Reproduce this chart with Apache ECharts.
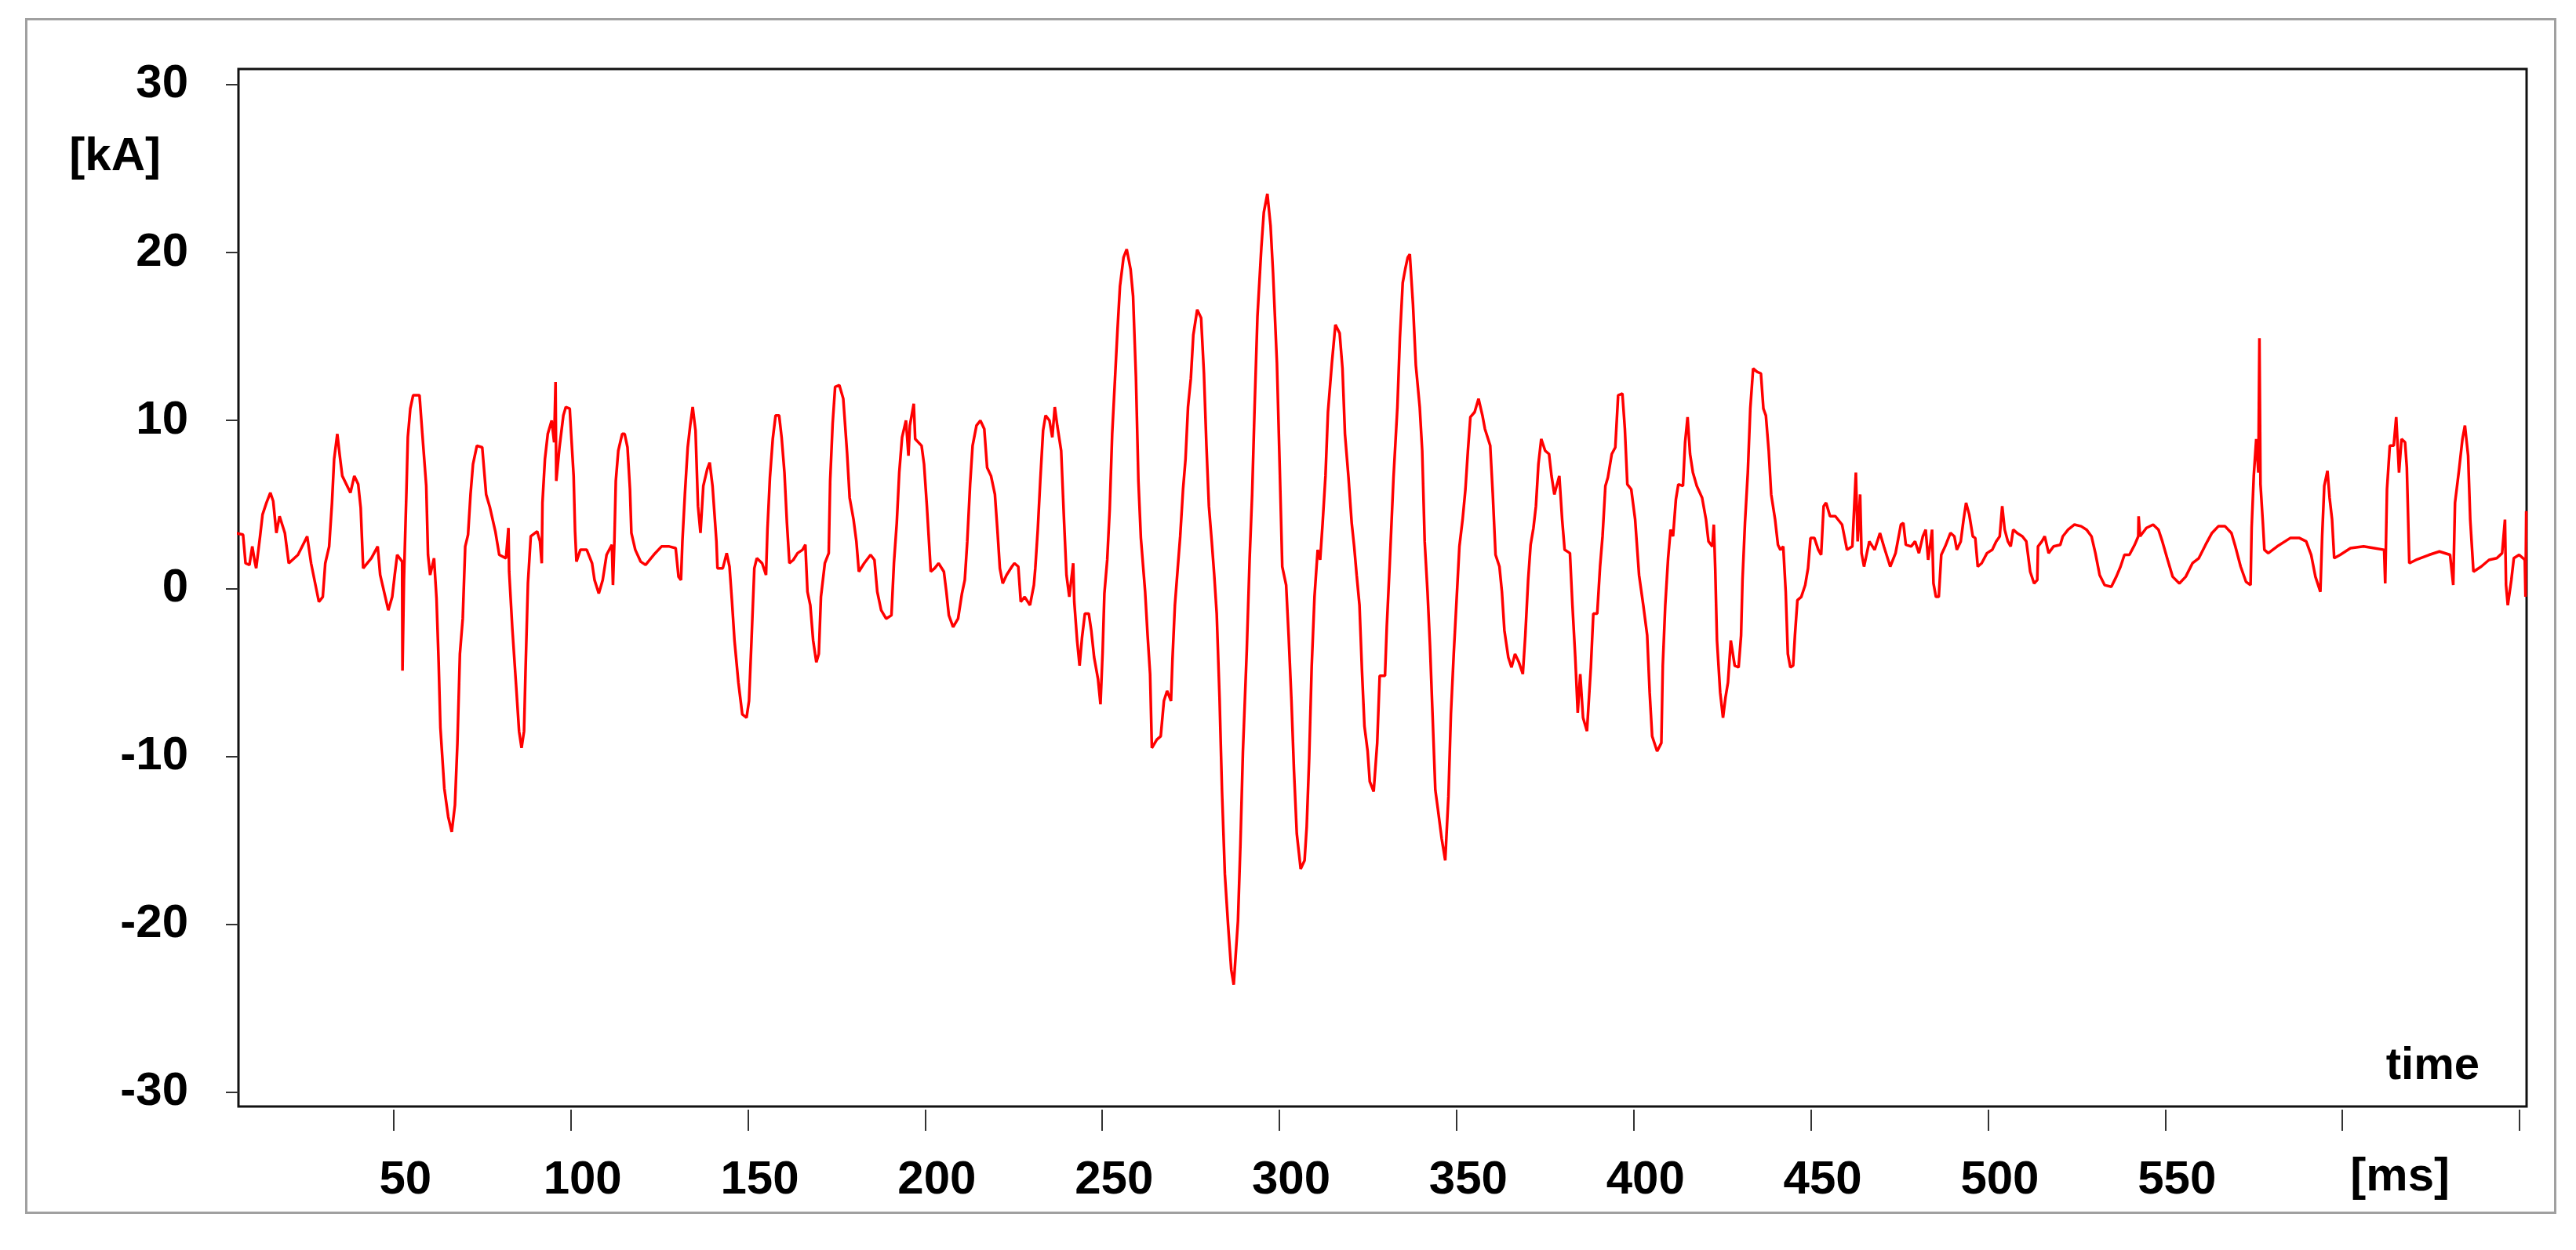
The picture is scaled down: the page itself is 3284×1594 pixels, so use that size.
<!DOCTYPE html>
<html>
<head>
<meta charset="utf-8">
<script src="https://cdn.jsdelivr.net/npm/echarts@6/dist/echarts.min.js"></script>
<style>
    html, body {
        margin: 0;
        padding: 0;
        background: #ffffff;
    }

    #chart {
        position: absolute;
        left: 0;
        top: 0;
        width: 3284px;
        height: 1594px;
    }

    .frame {
        position: absolute;
        left: 32px;
        top: 23px;
        width: 3227px;
        height: 1525px;
        box-sizing: border-box;
        border: 3px solid #a0a0a0;
        pointer-events: none;
    }
</style>
</head>
<body>
<div id="chart"></div>
<div class="frame"></div>
<script>
// time axis in ms, current in kA
const timeMs = [
    5.3, 7.5, 8.2, 9.3, 10.1, 10.8, 11.2, 12.3, 13.0, 14.1, 15.2, 16.0, 16.9, 17.8, 19.3, 20.4, 23.0, 25.6, 26.7, 28.9,
    30.0, 30.7, 31.8, 32.6, 33.2, 34.1, 34.8, 35.5, 37.8, 38.9, 40.0, 40.7, 41.4, 43.7, 45.5, 46.2, 47.3, 48.5, 49.6, 50.3,
    51.0, 52.4, 52.5, 52.9, 53.6, 54.0, 54.7, 55.5, 57.3, 58.1, 59.2, 59.7, 60.3, 61.4, 62.1, 62.7, 63.2, 64.3, 65.4, 66.4,
    67.3, 68.0, 68.7, 69.5, 70.2, 71.0, 71.7, 72.4, 73.5, 75.0, 76.1, 77.2, 78.7, 79.8, 81.7, 82.4, 82.6, 83.5, 84.6, 85.4,
    86.1, 86.8, 87.2, 87.9, 88.7, 90.5, 91.3, 91.8, 92.0, 92.7, 93.5, 94.6, 95.3, 95.7, 95.9, 96.8, 97.9, 98.6, 99.7, 100.1,
    100.8, 101.2, 101.6, 102.7, 104.5, 106.0, 106.7, 107.9, 109.0, 110.1, 111.6, 111.9, 112.3, 112.7, 113.4, 114.5, 115.2, 116.0, 116.7, 117.1,
    118.2, 119.7, 121.1, 123.4, 125.6, 127.8, 129.6, 130.4, 131.1, 131.5, 132.2, 133.0, 133.7, 134.4, 135.2, 135.9, 136.6, 137.4, 138.5, 139.2,
    140.0, 141.1, 141.4, 142.9, 144.0, 144.8, 145.5, 146.2, 147.3, 148.4, 149.6, 150.3, 151.0, 151.8, 152.5, 154.0, 155.1, 155.5, 156.2, 157.0,
    157.8, 158.8, 159.5, 160.3, 161.0, 161.7, 162.8, 164.0, 165.4, 166.2, 166.8, 167.6, 168.4, 169.3, 170.0, 170.6, 171.7, 172.8, 173.2, 173.9,
    174.6, 175.8, 176.9, 178.0, 178.7, 179.8, 180.6, 181.3, 182.8, 184.6, 185.7, 186.5, 187.6, 189.0, 190.5, 191.2, 192.0, 192.7, 193.5, 194.6,
    195.3, 195.7, 196.8, 197.2, 199.0, 199.7, 200.5, 201.6, 202.7, 203.8, 205.3, 206.0, 206.7, 207.9, 209.3, 210.4, 211.2, 211.9, 212.7, 213.4,
    214.5, 215.6, 216.7, 217.5, 218.6, 219.7, 220.4, 221.1, 221.9, 223.0, 224.5, 225.2, 226.3, 227.0, 228.1, 229.6, 230.7, 231.1, 231.8, 232.5,
    233.3, 234.0, 235.1, 235.9, 236.6, 237.3, 238.4, 239.2, 239.9, 240.7, 241.8, 242.1, 242.9, 243.6, 244.3, 245.1, 246.2, 246.9, 247.7, 248.8,
    249.5, 250.1, 250.6, 251.4, 252.1, 252.8, 253.6, 254.3, 255.0, 256.0, 256.9, 258.0, 258.7, 259.5, 260.2, 260.9, 262.1, 262.8, 263.5, 264.0,
    265.4, 266.5, 267.4, 268.3, 269.4, 269.8, 270.5, 271.3, 272.0, 272.8, 273.5, 274.2, 275.0, 275.7, 276.8, 277.9, 278.7, 279.4, 280.1, 280.9,
    281.6, 282.3, 283.1, 283.8, 284.6, 285.5, 286.4, 287.1, 288.3, 289.0, 289.7, 290.8, 291.6, 292.3, 293.0, 293.8, 294.9, 295.6, 296.6, 297.5,
    298.2, 299.3, 300.1, 300.8, 301.9, 302.6, 303.4, 304.1, 304.9, 306.0, 307.1, 307.7, 308.4, 309.1, 309.9, 310.8, 311.5, 312.2, 313.0, 313.7,
    314.8, 315.8, 317.0, 317.8, 318.5, 319.5, 320.4, 321.1, 321.8, 322.6, 323.3, 324.0, 324.9, 325.5, 326.6, 327.6, 328.3, 329.8, 330.3, 331.1,
    332.2, 333.3, 334.0, 334.8, 335.5, 336.2, 336.8, 337.7, 338.5, 339.6, 340.3, 341.0, 341.8, 342.5, 343.2, 344.0, 344.7, 345.8, 346.8, 347.7,
    348.4, 349.2, 350.0, 350.8, 351.7, 352.5, 353.2, 353.9, 355.1, 356.2, 357.3, 358.0, 359.5, 360.2, 361.0, 362.1, 362.8, 363.5, 364.6, 365.5,
    366.5, 367.6, 368.7, 369.4, 370.2, 370.9, 371.7, 372.4, 373.1, 373.9, 375.0, 376.1, 376.8, 377.6, 379.0, 379.8, 380.5, 382.0, 382.7, 383.5,
    384.2, 384.9, 385.7, 386.8, 387.9, 388.6, 389.7, 390.5, 391.2, 392.0, 392.7, 393.8, 394.8, 395.6, 396.8, 397.5, 398.2, 399.3, 400.4, 401.5,
    402.7, 403.8, 404.5, 405.2, 406.6, 407.8, 408.2, 408.9, 409.7, 410.4, 411.1, 411.9, 412.6, 413.9, 414.5, 415.2, 415.9, 416.7, 417.8, 419.3,
    420.4, 421.1, 422.2, 422.6, 423.0, 423.5, 424.4, 425.2, 425.9, 426.6, 427.4, 428.5, 429.6, 430.3, 430.7, 431.4, 432.2, 432.9, 433.7, 434.8,
    435.9, 436.6, 437.3, 438.1, 438.8, 439.9, 440.7, 441.4, 442.2, 442.9, 443.5, 444.2, 445.0, 445.5, 446.2, 447.3, 448.4, 449.2, 449.9, 451.0,
    452.1, 452.9, 453.6, 454.3, 455.4, 456.9, 458.8, 460.2, 461.7, 462.7, 463.2, 463.9, 464.3, 465.0, 466.5, 468.0, 469.5, 470.6, 472.4, 473.9,
    475.4, 476.1, 476.8, 478.3, 479.4, 480.5, 481.6, 482.4, 483.1, 483.8, 484.2, 484.6, 485.3, 486.1, 486.8, 487.9, 489.4, 490.5, 491.2, 492.3,
    493.1, 493.8, 494.7, 495.7, 496.4, 497.1, 498.2, 499.7, 501.2, 502.3, 503.3, 504.0, 504.7, 505.6, 506.4, 507.1, 508.2, 509.7, 510.8, 511.9,
    513.0, 513.9, 514.1, 515.2, 516.0, 517.1, 518.5, 520.4, 521.1, 522.6, 524.4, 526.3, 527.8, 529.2, 530.3, 531.5, 532.9, 534.8, 536.2, 537.4,
    538.5, 539.9, 541.4, 542.4, 542.5, 542.9, 544.7, 546.6, 548.1, 549.2, 550.7, 552.1, 554.0, 555.8, 557.7, 559.5, 561.4, 563.2, 565.0, 566.9,
    568.7, 569.8, 571.3, 572.8, 574.1, 574.4, 575.0, 575.7, 576.3, 576.6, 576.9, 577.2, 577.6, 578.0, 579.1, 581.6, 585.3, 587.9, 589.8, 591.2,
    592.4, 593.8, 594.3, 594.9, 595.8, 596.4, 597.1, 597.7, 599.4, 602.3, 606.0, 609.0, 611.8, 612.1, 612.6, 613.4, 614.5, 615.2, 616.0, 616.7,
    617.7, 618.2, 618.9, 620.8, 624.5, 627.4, 630.4, 631.3, 631.8, 632.9, 633.9, 634.6, 635.5, 636.1, 637.0, 639.2, 641.4, 643.6, 645.1, 645.9,
    646.2, 646.7, 647.7, 648.4, 649.9, 651.0, 651.5, 651.7, 651.9
];

const currentKA = [
    3.3, 3.2, 1.5, 1.4, 2.5, 1.6, 1.2, 3.1, 4.4, 5.1, 5.7, 5.2, 3.3, 4.3, 3.3, 1.5, 2.0, 3.1, 1.5, -0.8,
    -0.5, 1.5, 2.5, 5.1, 7.7, 9.2, 7.9, 6.7, 5.7, 6.7, 6.2, 4.8, 1.2, 1.8, 2.5, 0.8, -0.2, -1.3, -0.5, 0.8,
    2.0, 1.6, -4.9, 0.5, 5.7, 9.0, 10.7, 11.5, 11.5, 9.2, 6.1, 2.0, 0.8, 1.8, -0.6, -4.4, -8.3, -11.9, -13.6, -14.5,
    -12.9, -9.2, -3.9, -1.8, 2.5, 3.2, 5.6, 7.4, 8.5, 8.4, 5.6, 4.8, 3.4, 2.0, 1.8, 3.6, 1.0, -2.4, -5.9, -8.5,
    -9.5, -8.5, -5.1, 0.3, 3.1, 3.4, 2.8, 1.5, 5.1, 7.7, 9.2, 10.0, 8.7, 12.3, 6.4, 8.4, 10.3, 10.8, 10.7, 9.2,
    6.7, 3.4, 1.6, 2.3, 2.3, 1.5, 0.5, -0.3, 0.5, 2.0, 2.6, 0.2, 2.8, 6.4, 8.2, 9.2, 9.2, 8.4, 5.9, 3.3,
    2.3, 1.6, 1.4, 2.0, 2.5, 2.5, 2.4, 0.7, 0.5, 2.8, 5.6, 8.4, 9.7, 10.8, 9.4, 4.9, 3.3, 6.1, 7.1, 7.5,
    6.1, 2.8, 1.2, 1.2, 2.1, 1.3, -0.8, -3.1, -5.6, -7.5, -7.7, -6.7, -3.1, 1.2, 1.8, 1.5, 0.8, 3.5, 6.6, 8.9,
    10.3, 10.3, 9.0, 6.9, 3.9, 1.5, 1.7, 2.1, 2.3, 2.6, -0.2, -1.0, -3.1, -4.4, -3.9, -0.5, 1.5, 2.1, 6.4, 9.8,
    12.0, 12.1, 11.3, 8.0, 5.4, 4.1, 2.8, 1.0, 1.5, 2.0, 1.7, -0.2, -1.3, -1.8, -1.6, 1.5, 3.9, 6.9, 9.0, 10.0,
    7.9, 9.7, 11.0, 8.9, 8.5, 7.4, 4.9, 1.0, 1.2, 1.5, 1.0, -0.2, -1.6, -2.3, -1.8, -0.3, 0.5, 2.8, 6.2, 8.5,
    9.7, 10.0, 9.5, 7.2, 6.7, 5.6, 3.5, 1.2, 0.3, 0.8, 1.3, 1.5, 1.3, -0.8, -0.5, -1.0, 0.2, 1.2, 3.5, 6.4,
    9.4, 10.3, 10.0, 9.0, 10.8, 9.7, 8.2, 4.1, 0.8, -0.5, 1.5, -0.8, -3.1, -4.6, -2.9, -1.5, -1.5, -2.5, -4.1, -5.4,
    -6.9, -3.8, -0.3, 1.7, 4.7, 9.2, 12.5, 15.4, 18.0, 19.7, 20.2, 19.0, 17.4, 12.6, 6.4, 3.0, -0.2, -2.8, -5.1, -9.5,
    -9.0, -8.8, -6.7, -6.1, -6.7, -4.3, -1.0, 1.2, 3.1, 5.9, 7.7, 10.8, 12.5, 15.1, 16.6, 16.1, 12.8, 8.5, 4.9, 2.8,
    0.8, -1.5, -6.5, -12.1, -17.0, -20.0, -22.7, -23.6, -19.8, -15.2, -9.7, -3.6, 1.8, 5.6, 10.8, 16.2, 20.3, 22.4, 23.5, 21.6,
    18.8, 13.4, 7.1, 1.3, 0.2, -2.8, -6.7, -10.8, -14.6, -16.7, -16.2, -14.2, -10.1, -4.7, -0.5, 2.3, 1.7, 3.9, 6.7, 10.5,
    13.4, 15.7, 15.2, 13.1, 9.2, 6.6, 3.9, 2.5, 0.8, -1.0, -4.9, -8.2, -9.7, -11.5, -12.1, -9.2, -5.2, -5.2, -2.3, 1.3,
    6.6, 10.8, 14.9, 18.2, 19.0, 19.7, 19.9, 16.9, 13.3, 10.8, 8.2, 2.8, -0.2, -3.4, -7.4, -12.0, -13.1, -14.9, -16.2, -12.4,
    -7.5, -3.9, -0.7, 2.5, 4.1, 5.9, 8.2, 10.2, 10.5, 11.3, 10.3, 9.5, 8.5, 5.7, 2.0, 1.3, -0.2, -2.5, -4.1, -4.7,
    -3.9, -4.4, -5.1, -2.8, 0.5, 2.6, 3.6, 4.9, 7.4, 8.9, 8.2, 8.0, 6.7, 5.6, 6.7, 4.1, 2.3, 2.1, -1.0, -4.1,
    -7.4, -5.1, -7.7, -8.5, -4.7, -1.5, -1.5, 1.3, 3.1, 6.1, 6.6, 8.0, 8.4, 11.5, 11.6, 9.5, 6.2, 5.9, 4.1, 0.8,
    -1.0, -2.8, -6.2, -8.8, -9.7, -9.2, -4.6, -1.0, 1.8, 3.5, 3.1, 5.3, 6.2, 6.1, 8.7, 10.2, 8.0, 6.9, 6.1, 5.4,
    4.1, 2.8, 2.5, 3.8, 1.2, -3.1, -6.2, -7.7, -6.5, -5.6, -3.1, -4.6, -4.7, -2.8, 0.5, 3.9, 6.9, 10.7, 13.1, 12.9,
    12.8, 10.7, 10.3, 8.2, 5.6, 4.1, 2.6, 2.3, 2.5, -0.2, -3.9, -4.7, -4.6, -2.8, -0.7, -0.5, 0.2, 1.2, 3.0, 3.0,
    2.3, 2.0, 4.9, 5.1, 4.3, 4.3, 3.8, 2.3, 2.5, 6.9, 2.8, 5.6, 2.1, 1.3, 2.8, 2.3, 3.3, 2.5, 1.3, 2.1,
    3.8, 3.9, 2.6, 2.5, 2.8, 2.1, 3.1, 3.5, 1.7, 2.8, 3.5, 0.3, -0.5, -0.5, 2.0, 2.5, 3.3, 3.1, 2.3, 2.8,
    4.1, 5.1, 4.4, 3.1, 3.0, 1.3, 1.5, 2.1, 2.3, 2.8, 3.1, 4.9, 3.5, 2.8, 2.5, 3.5, 3.3, 3.1, 2.8, 1.0,
    0.3, 0.5, 2.5, 2.8, 3.1, 2.1, 2.5, 2.6, 3.1, 3.5, 3.8, 3.7, 3.5, 3.1, 2.1, 0.8, 0.2, 0.1, 0.7, 1.3,
    2.0, 2.0, 2.6, 3.1, 4.3, 3.1, 3.6, 3.8, 3.5, 2.8, 1.7, 0.7, 0.3, 0.7, 1.5, 1.8, 2.6, 3.3, 3.7, 3.7,
    3.3, 2.5, 1.3, 0.4, 0.2, 3.6, 6.7, 8.9, 6.9, 14.9, 6.2, 6.2, 3.8, 2.3, 2.1, 2.5, 3.0, 3.0, 2.8, 2.0,
    0.7, -0.2, 3.1, 6.1, 7.0, 5.4, 4.1, 1.8, 2.0, 2.4, 2.5, 2.4, 2.3, 0.3, 5.9, 8.5, 8.5, 10.2, 6.9, 8.9,
    8.7, 7.2, 1.5, 1.7, 2.0, 2.2, 2.0, 0.2, 5.1, 7.0, 8.9, 9.7, 7.9, 4.1, 1.0, 1.3, 1.7, 1.8, 2.1, 4.1,
    0.2, -1.0, 0.5, 1.8, 2.0, 1.8, 1.7, -0.5, 4.6
];

const yTicks = [-30, -20, -10, 0, 10, 20, 30];
const xTicks = [50, 100, 150, 200, 250, 300, 350, 400, 450, 500, 550, 600, 650];
const xLabels = [50, 100, 150, 200, 250, 300, 350, 400, 450, 500, 550];

const FONT = '"Liberation Sans", Arial, sans-serif';

const chart = echarts.init(document.getElementById('chart'));

const option = {
    animation: false,
    title: {
        text: 'time',
        right: 123,
        top: 1331,
        padding: 0,
        textStyle: {
            fontFamily: FONT,
            fontSize: 58,
            fontWeight: 'bold',
            color: '#000'
        }
    },
    grid: {
        left: 304,
        right: 63,
        top: 88,
        bottom: 183,
        show: true,
        borderColor: '#111',
        borderWidth: 3
    },
    xAxis: {
        type: 'value',
        min: 6.2,
        max: 652,
        offset: 4,
        axisLine: { show: false, onZero: false },
        splitLine: { show: false },
        axisTick: {
            customValues: xTicks,
            length: 27,
            lineStyle: { color: '#333', width: 2 }
        },
        axisLabel: {
            customValues: xLabels,
            margin: 60,
            fontFamily: FONT,
            fontSize: 60,
            fontWeight: 'bold',
            color: '#000',
            padding: [0, 0, 0, 30]
        },
        name: '[ms]',
        nameLocation: 'end',
        nameGap: -98,
        nameTextStyle: {
            align: 'right',
            verticalAlign: 'top',
            padding: [56, 0, 0, 0],
            fontFamily: FONT,
            fontSize: 60,
            fontWeight: 'bold',
            color: '#000'
        }
    },
    yAxis: {
        type: 'value',
        min: -30.85,
        max: 30.93,
        axisLine: { show: false, onZero: false },
        splitLine: { show: false },
        axisTick: {
            customValues: yTicks,
            length: 16,
            lineStyle: { color: '#333', width: 2 }
        },
        axisLabel: {
            customValues: yTicks,
            margin: 64,
            fontFamily: FONT,
            fontSize: 60,
            fontWeight: 'bold',
            color: '#000'
        },
        name: '[kA]',
        nameLocation: 'end',
        nameGap: -112,
        nameTextStyle: {
            align: 'right',
            verticalAlign: 'middle',
            padding: [0, 99, 0, 0],
            fontFamily: FONT,
            fontSize: 60,
            fontWeight: 'bold',
            color: '#000'
        }
    },
    series: [
        {
            type: 'line',
            data: timeMs.map((t, i) => [t, currentKA[i]]),
            showSymbol: false,
            clip: true,
            lineStyle: {
                color: '#ff0000',
                width: 3.5
            }
        }
    ]
};

chart.setOption(option);
</script>
</body>
</html>
